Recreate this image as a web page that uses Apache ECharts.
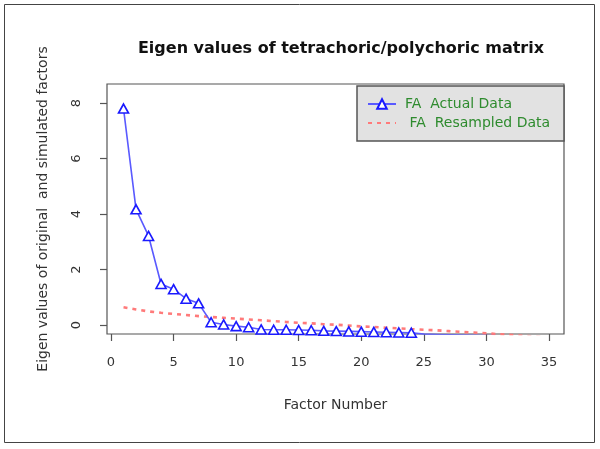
<!DOCTYPE html>
<html><head><meta charset="utf-8">
<script src="https://cdn.jsdelivr.net/npm/echarts@6/dist/echarts.min.js"></script>
<style>html,body{margin:0;padding:0;background:#fff}#c{width:600px;height:449px}</style>
</head><body><div id="c"></div>
<script>
const factors = [1,2,3,4,5,6,7,8,9,10,11,12,13,14,15,16,17,18,19,20,21,22,23,24,25,26,27,28,29,30,31,32,33,34,35];
const actualData = [7.8,4.17,3.21,1.48,1.29,0.95,0.78,0.10,0.02,-0.04,-0.08,-0.16,-0.17,-0.17,-0.18,-0.19,-0.21,-0.22,-0.23,-0.24,-0.25,-0.26,-0.27,-0.28,-0.33,-0.34,-0.35,-0.36,-0.37,-0.38,-0.39,-0.40,-0.42,-0.44,-0.46];
const resampledData = [0.64,0.56,0.49,0.44,0.40,0.36,0.32,0.29,0.26,0.23,0.20,0.17,0.14,0.11,0.08,0.06,0.03,0.01,-0.02,-0.05,-0.07,-0.10,-0.12,-0.15,-0.17,-0.19,-0.22,-0.25,-0.27,-0.30,-0.33,-0.36,-0.39,-0.42,-0.45];
const xTicks = [0,5,10,15,20,25,30,35];
const yTicks = [0,2,4,6,8];
const titleText = 'Eigen values of tetrachoric/polychoric matrix';
const xName = 'Factor Number';
const yName = 'Eigen values of original  and simulated factors';
const seriesNames = ['FA  Actual Data', ' FA  Resampled Data'];

const FONT = '"DejaVu Sans", "Liberation Sans", Arial, sans-serif';
const chart = echarts.init(document.getElementById('c'), null, {renderer: 'canvas'});
chart.setOption({
  animation: false,
  backgroundColor: '#fff',
  title: {
    text: titleText, left: 336, top: 36, textAlign: 'center',
    textStyle: {fontFamily: FONT, fontSize: 16, fontWeight: 'bold', color: '#111'}
  },
  grid: {left: 107, top: 84, right: 36, bottom: 115, show: true, borderColor: '#555', borderWidth: 1.2, backgroundColor: 'transparent'},
  xAxis: {
    type: 'value', min: -0.32, max: 36.2,
    name: xName, nameLocation: 'middle', nameGap: 64,
    nameTextStyle: {fontFamily: FONT, fontSize: 14, color: '#333'},
    axisLine: {show: false, onZero: false},
    splitLine: {show: false},
    axisTick: {show: true, length: 7, inside: false, customValues: xTicks, lineStyle: {color: '#555', width: 1.2}},
    axisLabel: {customValues: xTicks, margin: 22, fontFamily: FONT, fontSize: 13, color: '#333'}
  },
  yAxis: {
    type: 'value', min: -0.324, max: 8.685,
    name: yName, nameLocation: 'middle', nameGap: 57,
    nameTextStyle: {fontFamily: FONT, fontSize: 14, color: '#333'},
    axisLine: {show: false, onZero: false},
    splitLine: {show: false},
    axisTick: {show: true, length: 7, customValues: yTicks, lineStyle: {color: '#555', width: 1.2}},
    axisLabel: {customValues: yTicks, rotate: 90, margin: 24, fontFamily: FONT, fontSize: 13, color: '#333'}
  },
  legend: {
    orient: 'vertical', left: 362, top: 92, itemWidth: 28, itemHeight: 12, itemGap: 5,
    z: 10,
    data: [
      {name: seriesNames[0]},
      {name: seriesNames[1], itemStyle: {opacity: 0}}
    ],
    textStyle: {fontFamily: FONT, fontSize: 14, color: '#2e8b2e', padding: [0,0,0,4]}
  },
  graphic: [
    {type: 'rect', z: 1, shape: {x: 357, y: 86, width: 207, height: 55}, style: {fill: '#e2e2e2', stroke: '#555', lineWidth: 1.5}},
    {type: 'rect', z: 1, shape: {x: 4.5, y: 4.5, width: 590, height: 438}, style: {fill: 'none', stroke: '#444', lineWidth: 1}}
  ],
  series: [
    {
      name: seriesNames[0], type: 'line', clip: true, z: 5,
      data: factors.map((f, i) => [f, actualData[i]]),
      symbol: 'triangle', symbolSize: [10, 9],
      itemStyle: {color: '#fff', borderColor: '#1a1aff', borderWidth: 1.6},
      lineStyle: {color: '#5a5aff', width: 1.6}
    },
    {
      name: seriesNames[1], type: 'line', clip: true, z: 4,
      data: factors.map((f, i) => [f, resampledData[i]]),
      symbol: 'none', showSymbol: false,
      itemStyle: {color: '#ff7a7a'},
      lineStyle: {color: '#ff7a7a', width: 2.6, type: [4, 5]}
    }
  ]
});
</script>
</body></html>
